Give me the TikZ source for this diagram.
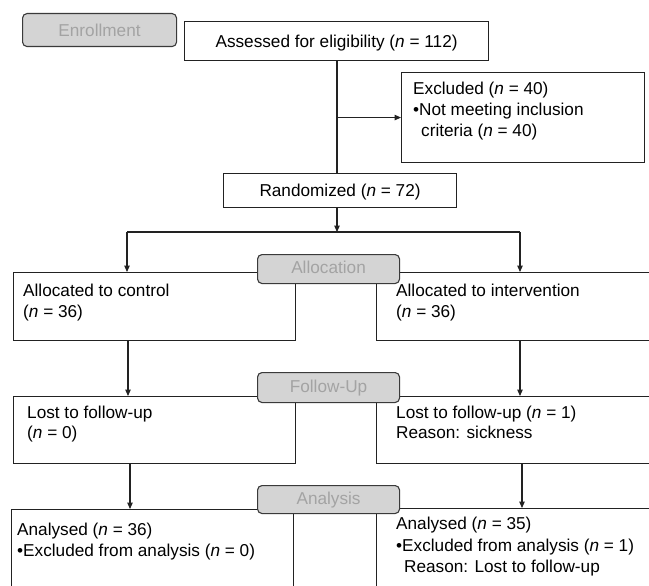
\documentclass[tikz,border=0pt]{standalone}
\usepackage{fontspec}
\setmainfont{Liberation Sans}
\usetikzlibrary{arrows.meta}
\definecolor{lineC}{HTML}{222222}
\definecolor{labFill}{HTML}{D4D4D4}
\definecolor{labText}{HTML}{A3A3A3}
\definecolor{labLine}{HTML}{3A3A3A}
\begin{document}
\begin{tikzpicture}[x=1pt,y=-1pt,
  font=\fontsize{17.2}{20}\selectfont,
  box/.style={draw=lineC, line width=1.1pt, fill=white, inner sep=0pt, anchor=north west},
  lab/.style={draw=labLine, line width=1.1pt, fill=labFill, rounded corners=4.5pt, text=labText,
              anchor=north west, inner sep=0pt, text height=12.3pt, text depth=3pt},
  txt/.style={anchor=base west, inner sep=0pt, text=black},
  ctxt/.style={text height=12.3pt, text depth=0pt},
  arr/.style={draw=lineC, line width=1.1pt, -{Triangle[length=6.5pt,width=5.5pt]}},
  ln/.style={draw=lineC, line width=1.1pt}]
\useasboundingbox (0,0) rectangle (649,586);
\fill[white] (0,0) rectangle (649,586);
\clip (0,0) rectangle (649,586);

% coordinates
\coordinate (trunk) at (337,0);
\coordinate (split) at (337,232);
\coordinate (splitL) at (127,232);
\coordinate (splitR) at (520,232);
\coordinate (colL2) at (128,0);
\coordinate (colR2) at (520,0);
\coordinate (colL3) at (130,0);
\coordinate (colR3) at (522,0);

% top boxes
\node[box, minimum width=304pt, minimum height=39pt, ctxt] (assess) at (184,21) {Assessed for eligibility (\textit{n} = 112)};
\node[box, minimum width=243pt, minimum height=90pt] (excl) at (401,72) {};
\node[txt] (exclT1) at (413,95) {Excluded (\textit{n} = 40)};
\node[txt] (exclT2) at (413,116) {•Not meeting inclusion};
\node[txt] (exclT3) at (421,137) {criteria (\textit{n} = 40)};
\node[box, minimum width=233pt, minimum height=34pt, ctxt] (rand) at (223,173) {Randomized (\textit{n} = 72)};

% allocation row
\node[box, minimum width=282pt, minimum height=68pt] (allocL) at (13,272) {};
\node[box, minimum width=330pt, minimum height=68pt] (allocR) at (376,272) {};
\node[txt] (allocLT1) at (23,296) {Allocated to control};
\node[txt] (allocLT2) at (23,317) {(\textit{n} = 36)};
\node[txt] (allocRT1) at (396,296) {Allocated to intervention};
\node[txt] (allocRT2) at (396,317) {(\textit{n} = 36)};

% follow-up row
\node[box, minimum width=282pt, minimum height=67pt] (lostL) at (13,396) {};
\node[box, minimum width=330pt, minimum height=67pt] (lostR) at (376,396) {};
\node[txt] (lostLT1) at (27,418) {Lost to follow-up};
\node[txt] (lostLT2) at (27,438) {(\textit{n} = 0)};
\node[txt] (lostRT1) at (396,418) {Lost to follow-up (\textit{n} = 1)};
\node[txt] (lostRT2) at (396,438) {Reason: sickness};

% analysis row
\node[box, minimum width=282pt, minimum height=120pt] (anaL) at (11,509) {};
\node[box, minimum width=330pt, minimum height=120pt] (anaR) at (376,508) {};
\node[txt] (anaLT1) at (17,535) {Analysed (\textit{n} = 36)};
\node[txt] (anaLT2) at (17,556) {•Excluded from analysis (\textit{n} = 0)};
\node[txt] (anaRT1) at (396,529) {Analysed (\textit{n} = 35)};
\node[txt] (anaRT2) at (396,551) {•Excluded from analysis (\textit{n} = 1)};
\node[txt] (anaRT3) at (404,572) {Reason: Lost to follow-up};

% connectors
\draw[ln] (assess.south -| trunk) -- (rand.north -| trunk);
\draw[arr] (excl.west -| trunk) -- (excl.west);
\draw[arr] (rand.south -| trunk) -- (split);
\draw[ln] (splitL) -- (splitR);
\draw[draw=lineC, line width=2pt] ([xshift=-47pt]split) -- ([xshift=20pt]split);
\draw[arr] (splitL) -- (allocL.north -| splitL);
\draw[arr] (splitR) -- (allocR.north -| splitR);
\draw[arr] (allocL.south -| colL2) -- (lostL.north -| colL2);
\draw[arr] (allocR.south -| colR2) -- (lostR.north -| colR2);
\draw[arr] (lostL.south -| colL3) -- (anaL.north -| colL3);
\draw[arr] (lostR.south -| colR3) -- (anaR.north -| colR3);

% stage labels
\node[lab, minimum width=154pt, minimum height=33pt, text depth=0pt] (enroll) at (22,13) {Enrollment};
\node[lab, minimum width=142pt, minimum height=29pt] (allocLab) at (257,254) {Allocation};
\node[lab, minimum width=142pt, minimum height=30pt] (followLab) at (257,372) {Follow-Up};
\node[lab, minimum width=142pt, minimum height=28pt] (anaLab) at (257,485) {Analysis};
\end{tikzpicture}
\end{document}
